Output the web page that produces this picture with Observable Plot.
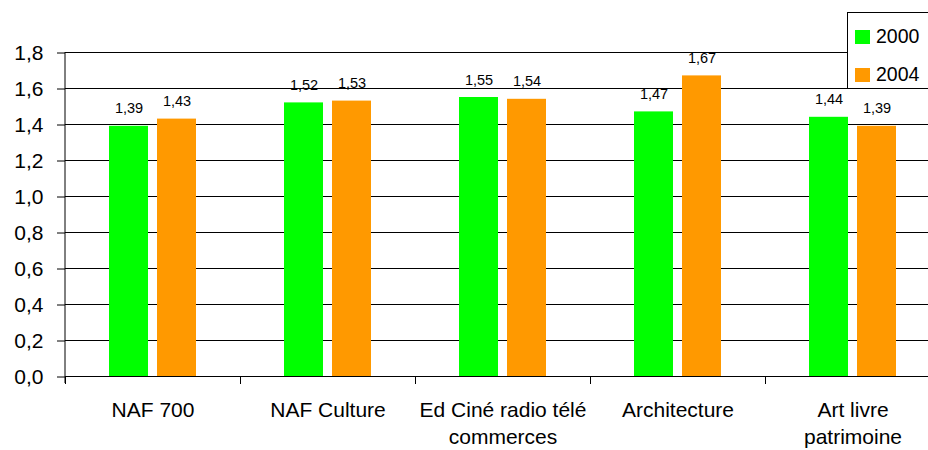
<!DOCTYPE html>
<html>
<head>
<meta charset="utf-8">
<script src="https://cdn.jsdelivr.net/npm/d3@7"></script>
<script src="https://cdn.jsdelivr.net/npm/@observablehq/plot@0.6"></script>
<style>
  html, body { margin: 0; padding: 0; background: #fff; overflow: hidden; }
  #wrap { position: relative; width: 928px; height: 450px; overflow: hidden; }
  #wrap svg { max-width: none !important; display: block; }
  #legend { position: absolute; left: 847px; top: 12px; width: 90px; height: 77px;
    border: 1px solid #000; background: #fff; font-family: "Liberation Sans", Arial, sans-serif;
    font-size: 19.5px; color: #000; box-sizing: border-box; }
  .item { position: absolute; left: 7px; display: flex; align-items: center; }
  .sw { width: 15px; height: 14px; margin-right: 6px; }
</style>
</head>
<body>
<div id="wrap"><div id="legend"></div></div>
<script>
const categories = ["NAF 700", "NAF Culture", "Ed Ciné radio télé commerces", "Architecture", "Art livre patrimoine"];
const tickLabels = ["NAF 700", "NAF Culture", "Ed Ciné radio télé\ncommerces", "Architecture", "Art livre\npatrimoine"];
const years = ["2000", "2004"];
const values2000 = [1.39, 1.52, 1.55, 1.47, 1.44];
const values2004 = [1.43, 1.53, 1.54, 1.67, 1.39];
const colors = ["#00ff00", "#ff9900"];
const yTicks = [0, 0.2, 0.4, 0.6, 0.8, 1.0, 1.2, 1.4, 1.6, 1.8];

const data = [];
categories.forEach((c, i) => {
  data.push({category: c, year: years[0], value: values2000[i]});
  data.push({category: c, year: years[1], value: values2004[i]});
});
const labelOf = new Map(categories.map((c, i) => [c, tickLabels[i]]));
const comma = (v, n) => v.toFixed(n).replace(".", ",");

const W = 940, H = 450, mt = 52, mb = 74, ml = 65, mr = 0;

const chart = Plot.plot({
  width: W, height: H,
  marginTop: mt, marginBottom: mb, marginLeft: ml, marginRight: mr,
  style: {fontFamily: '"Liberation Sans", Arial, sans-serif', background: "#fff", color: "#000", maxWidth: "none"},
  fx: {domain: categories, padding: 0, label: null},
  x: {domain: years, paddingInner: 0.1875, paddingOuter: 0.9167, axis: null, round: false},
  y: {domain: [0, 1.8], label: null},
  color: {domain: years, range: colors},
  marks: [
    Plot.gridY(yTicks, {stroke: "#000", strokeOpacity: 1, strokeWidth: 1}),
    Plot.barY(data, {fx: "category", x: "year", y: "value", fill: "year"}),
    Plot.text(data, {fx: "category", x: "year", y: "value", text: d => comma(d.value, 2),
      lineAnchor: "bottom", dy: -13, fontSize: 14.5, fill: "#000"}),
    Plot.frame({anchor: "left", insetTop: H - mt - mb, insetBottom: -7, stroke: "#000"}),
    Plot.axisY({ticks: yTicks, tickSize: 8, tickPadding: 14, fontSize: 21, dy: 0.5,
      tickFormat: d => comma(d, 1), label: null}),
    Plot.axisFx({anchor: "bottom", tickSize: 0, tickPadding: 21, fontSize: 21, lineHeight: 1.3,
      tickFormat: d => labelOf.get(d), label: null})
  ]
});
chart.style.maxWidth = "none";

// y axis line along the left edge of the first category band
const fxs = chart.scale("fx"), ys = chart.scale("y");
const x0 = fxs.apply(categories[0]);
d3.select(chart).append("line")
  .attr("x1", x0).attr("x2", x0)
  .attr("y1", ys.apply(yTicks[yTicks.length - 1])).attr("y2", ys.apply(0) + 7)
  .attr("stroke", "#000").attr("stroke-width", 1);

document.getElementById("wrap").prepend(chart);

// legend
const legend = document.getElementById("legend");
years.forEach((yr, i) => {
  const it = document.createElement("div");
  it.className = "item";
  it.style.top = (i === 0 ? 12 : 50) + "px";
  const sw = document.createElement("div");
  sw.className = "sw";
  sw.style.background = colors[i];
  it.appendChild(sw);
  it.appendChild(document.createTextNode(yr));
  legend.appendChild(it);
});
</script>
</body>
</html>
